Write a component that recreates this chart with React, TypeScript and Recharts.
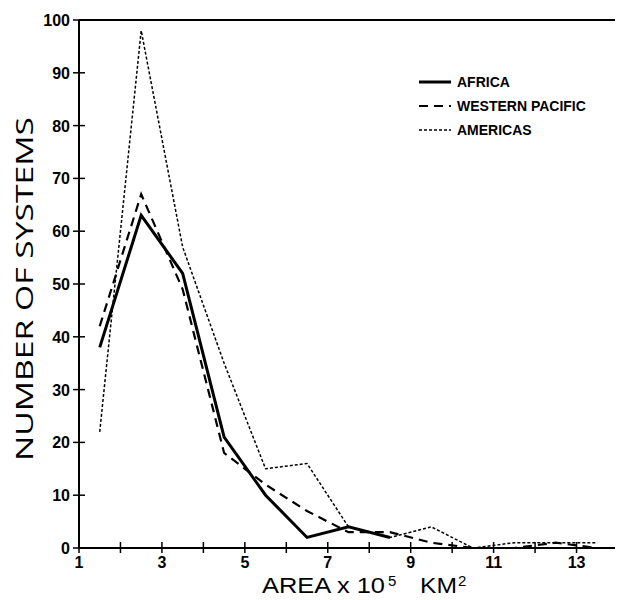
import React from 'react';
import { LineChart, Line, XAxis, YAxis, ReferenceLine, Legend } from 'recharts';

const areaMidpoints = [1.5, 2.5, 3.5, 4.5, 5.5, 6.5, 7.5, 8.5, 9.5, 10.5, 11.5, 12.5, 13.5];
const africa = [38, 63, 52, 21, 10, 2, 4, 2];
const westernPacific = [42, 67, 49, 18, 12, 7, 3, 3, 1, 0, 0, 1, 0];
const americas = [22, 98, 57, 35, 15, 16, 4, 2, 4, 0, 1, 1, 1];
const xTicks = [1, 2, 3, 4, 5, 6, 7, 8, 9, 10, 11, 12, 13];
const yTicks = [0, 10, 20, 30, 40, 50, 60, 70, 80, 90, 100];

const data = areaMidpoints.map((x, i) => ({
  x,
  africa: africa[i],
  westernPacific: westernPacific[i],
  americas: americas[i],
}));

const FONT = '"Liberation Sans", Arial, sans-serif';
const TITLE_FONT = '"Open Sans", "Liberation Sans", Arial, sans-serif';

const XTick = (props: any) => {
  const { x, y, payload } = props;
  const v = payload.value;
  return (
    <g>
      <line x1={x} x2={x} y1={y - 6} y2={y + 5} stroke="#000" strokeWidth={1.5} />
      {v % 2 === 1 ? (
        <text x={x} y={y + 20} textAnchor="middle" fontFamily={FONT} fontSize={16} fontWeight="bold" fill="#000">
          {v}
        </text>
      ) : null}
    </g>
  );
};

const YTick = (props: any) => {
  const { x, y, payload } = props;
  const v = payload.value;
  return (
    <g>
      <line x1={x - 6} x2={v === 100 ? x : x + 6} y1={y} y2={y} stroke="#000" strokeWidth={1.5} />
      <text x={x - 9} y={y + 6} textAnchor="end" fontFamily={FONT} fontSize={16} fontWeight="bold" fill="#000">
        {v}
      </text>
    </g>
  );
};

const legendItems = [
  { label: 'AFRICA', dash: undefined, width: 3 },
  { label: 'WESTERN PACIFIC', dash: '9 6', width: 2 },
  { label: 'AMERICAS', dash: '3 2', width: 1.5 },
];

const renderLegend = () => (
  <div style={{ fontFamily: FONT, fontSize: 14, fontWeight: 'bold', color: '#000' }}>
    {legendItems.map((it) => (
      <div key={it.label} style={{ display: 'flex', alignItems: 'center', height: 24 }}>
        <svg width={38} height={10} style={{ marginRight: 2 }}>
          <line x1={2} x2={34} y1={5} y2={5} stroke="#000" strokeWidth={it.width} strokeDasharray={it.dash} />
        </svg>
        <span>{it.label}</span>
      </div>
    ))}
  </div>
);

export default function App() {
  return (
    <LineChart width={615} height={592} data={data} margin={{ top: 12, right: 5, left: 0, bottom: 0 }}>
      <XAxis
        dataKey="x"
        type="number"
        domain={[1, 14]}
        ticks={xTicks}
        allowDataOverflow
        tick={<XTick />}
        tickLine={false}
        tickSize={0}
        tickMargin={0}
        height={52}
        axisLine={{ stroke: '#000', strokeWidth: 2 }}
        label={(p: any) => {
          const vb = p.viewBox;
          const x0 = vb.x;
          const by = vb.y + 45;
          return (
            <g fontFamily={FONT} fill="#000">
              <text x={x0 + 183} y={by} fontSize={22} textLength={123} lengthAdjust="spacingAndGlyphs">
                AREA x 10
              </text>
              <text x={x0 + 309} y={by - 7} fontSize={15}>5</text>
              <text x={x0 + 341} y={by} fontSize={22} textLength={37} lengthAdjust="spacingAndGlyphs">KM</text>
              <text x={x0 + 379} y={by - 7} fontSize={15}>2</text>
            </g>
          );
        }}
      />
      <YAxis
        type="number"
        domain={[0, 100]}
        ticks={yTicks}
        width={71}
        tick={<YTick />}
        tickLine={false}
        tickSize={0}
        tickMargin={0}
        axisLine={{ stroke: '#000', strokeWidth: 2 }}
        label={(p: any) => {
          const vb = p.viewBox;
          const cy = vb.y + vb.height / 2 + 5;
          return (
            <text
              x={0}
              y={0}
              transform={`translate(${25}, ${cy}) rotate(-90)`}
              textAnchor="middle"
              fontFamily={TITLE_FONT}
              fontWeight={400}
              fontSize={24}
              fill="#000"
              textLength={344}
              lengthAdjust="spacingAndGlyphs"
            >
              NUMBER OF SYSTEMS
            </text>
          );
        }}
      />
      <ReferenceLine y={100} stroke="#000" strokeWidth={2} ifOverflow="visible" />
      <ReferenceLine x={14} stroke="#000" strokeWidth={2} ifOverflow="visible" />
      <Legend
        content={renderLegend}
        layout="vertical"
        verticalAlign="middle"
        align="center"
        wrapperStyle={{ position: 'absolute', top: 62, left: 409, width: 200 }}
      />
      <Line
        dataKey="americas"
        stroke="#000"
        strokeWidth={1.5}
        strokeDasharray="3 2"
        dot={false}
        isAnimationActive={false}
        type="linear"
      />
      <Line
        dataKey="westernPacific"
        stroke="#000"
        strokeWidth={2.2}
        strokeDasharray="9 6"
        dot={false}
        isAnimationActive={false}
        type="linear"
      />
      <Line
        dataKey="africa"
        stroke="#000"
        strokeWidth={3}
        dot={false}
        isAnimationActive={false}
        type="linear"
        connectNulls={false}
      />
    </LineChart>
  );
}
